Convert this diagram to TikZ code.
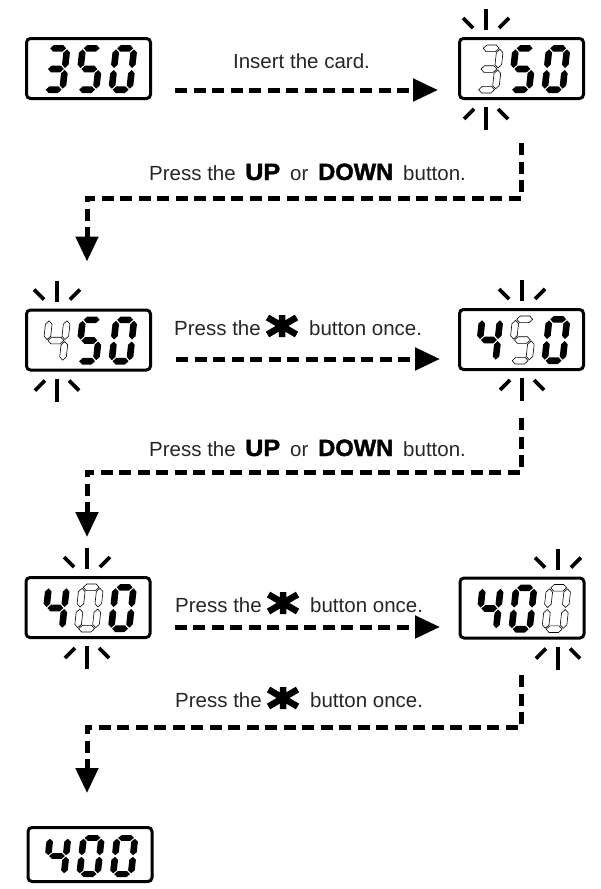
\documentclass[tikz,border=0pt]{standalone}
\usepackage{fontspec}
\setmainfont{Liberation Sans}
\newfontfamily\heavyfont{Liberation Sans}[BoldFeatures={FakeBold=1.6}]
\usepackage{graphicx}
\usetikzlibrary{arrows.meta,calc}

% seven-segment geometry (local coords, y up, 24 x 48), half thickness 3.3
\newcommand\hseg[3]{\path[segstyle] (#1,#3) -- ({#1+3.3},{#3+3.3}) -- ({#2-3.3},{#3+3.3}) -- (#2,#3) -- ({#2-3.3},{#3-3.3}) -- ({#1+3.3},{#3-3.3}) -- cycle;}
\newcommand\vseg[3]{\path[segstyle] (#1,#2) -- ({#1+3.3},{#2+3.3}) -- ({#1+3.3},{#3-3.3}) -- (#1,#3) -- ({#1-3.3},{#3-3.3}) -- ({#1-3.3},{#2+3.3}) -- cycle;}
\newcommand\SegA{\hseg{4.3}{20.2}{44.7}}
\newcommand\SegG{\hseg{4.3}{20.2}{24}}
\newcommand\SegD{\hseg{4.3}{20.2}{3.3}}
\newcommand\SegF{\vseg{3.3}{25}{43.7}}
\newcommand\SegB{\vseg{21.2}{25}{43.7}}
\newcommand\SegE{\vseg{3.3}{4.3}{23}}
\newcommand\SegC{\vseg{21.2}{4.3}{23}}

% \sdigit[opts]{x}{y}{ghost 0/1}{digit}
\newcommand\sdigit[5][]{%
  \begin{scope}[shift={({#2},{#3})},y=1pt,xslant=0.11,#1]
    \ifnum#4=1 \tikzset{segstyle/.style={ghost}}\else\tikzset{segstyle/.style={lit}}\fi
    \ifcase#5\relax
      \SegA\SegB\SegC\SegD\SegE\SegF
    \or\or\or
      \SegA\SegB\SegC\SegD\SegG
    \or
      \SegB\SegC\SegF\SegG
    \or
      \SegA\SegC\SegD\SegF\SegG
    \fi
  \end{scope}}

% \lcd[opts]{cx}{digit bottom y}{n1}{n2}{n3}{ghost position}
\newcommand\lcd[7][]{%
  \sdigit[#1]{#2-47.5}{#3}{\ifnum#7=1 1\else0\fi}{#4}%
  \sdigit[#1]{#2-14}{#3}{\ifnum#7=2 1\else0\fi}{#5}%
  \sdigit[#1]{#2+19.5}{#3}{\ifnum#7=3 1\else0\fi}{#6}}

% \flash{cx}{box top}{box bottom}
\newcommand\flash[3]{%
  \draw[ray] ({#1},{#2-28}) -- ({#1},{#2-7});
  \draw[ray] ({#1-23},{#2-19}) -- ({#1-13},{#2-9});
  \draw[ray] ({#1+23},{#2-19}) -- ({#1+13},{#2-9});
  \draw[ray] ({#1},{#3+7}) -- ({#1},{#3+30});
  \draw[ray] ({#1-22},{#3+19}) -- ({#1-12},{#3+9});
  \draw[ray] ({#1+22},{#3+19}) -- ({#1+12},{#3+9});}

\tikzset{
  lit/.style={fill=black},
  ghost/.style={draw=black, fill=white, line width=0.6pt, line join=round},
  disp/.style={draw, line width=3pt, rounded corners=4pt, minimum width=124pt, minimum height=60pt, inner sep=0pt},
  ray/.style={line width=3.6pt},
  conn/.style={line width=5pt, dash pattern=on 12pt off 6.5pt, -{Triangle[width=22pt,length=25pt]}},
  txt/.style={font=\fontsize{20.5}{24}\selectfont, text=black!85, inner sep=0pt},
  starkey/.pic={\draw[line width=6.5pt, black] (0,-11) -- (0,11) (-14.5,-8.5) -- (14.5,8.5) (-14.5,8.5) -- (14.5,-8.5);}
}

\newcommand\hv[1]{{\heavyfont\bfseries\color{black}#1}}
\newcommand\updown{Press the\hspace{9.4pt}\scalebox{1.23}[1.15]{\hv{UP}}\hspace{10pt}or\hspace{9.8pt}\scalebox{1.155}[1.15]{\hv{DOWN}}\hspace{10pt}button.}
\newcommand\starline{Press the\hspace{48.4pt}button once.}

\begin{document}
\begin{tikzpicture}[x=1pt,y=-1pt]
\useasboundingbox (0,0) rectangle (600,889);

% displays
\node[disp] (d1) at (88.5,68.5) {};
\node[disp] (d2) at (521.5,68.5) {};
\node[disp] (d3) at (88.5,340) {};
\node[disp] (d4) at (521.5,339.5) {};
\node[disp] (d5) at (88,607.5) {};
\node[disp] (d6) at (522,608) {};
\node[disp, minimum height=54pt] (d7) at (90,854.5) {};

\lcd{88.5}{93}{3}{5}{0}{0}
\lcd{521.5}{93}{3}{5}{0}{1}
\lcd{88.5}{364.5}{4}{5}{0}{1}
\lcd{521.5}{364}{4}{5}{0}{2}
\lcd{88}{632}{4}{0}{0}{2}
\lcd{522}{632.5}{4}{0}{0}{3}
\lcd[yscale=0.875]{90}{877}{4}{0}{0}{0}

% flashing marks
\flash{486}{37}{100}
\flash{57}{308.5}{371.5}
\flash{522}{308}{371}
\flash{87}{576}{639}
\flash{558}{576.5}{639.5}

% texts
\node[txt, anchor=base] (t1) at (301.5,68) {Insert the card.};
\node[txt, anchor=base west] (t2) at (149,180) {\updown};
\node[txt, anchor=base west] (t3) at (174,335) {\starline};
\pic at ($(t3.base west)+(108,-9)$) {starkey};
\node[txt, anchor=base west] (t4) at (149,456) {\updown};
\node[txt, anchor=base west] (t5) at (175,612) {\starline};
\pic at ($(t5.base west)+(108,-9)$) {starkey};
\node[txt, anchor=base west] (t6) at (175,707) {\starline};
\pic at ($(t6.base west)+(108,-9)$) {starkey};

% connectors
\draw[conn] ($(d1.east)+(23,21.5)$) -- ($(d2.west)+(-20,21.5)$);
\draw[conn] ($(d3.east)+(24,19)$) -- ($(d4.west)+(-18,19.5)$);
\draw[conn] ($(d5.east)+(23,19.5)$) -- ($(d6.west)+(-18.5,19)$);
\draw[conn] ($(d2.south)+(-0.5,43)$) -- ++(0,55) -| ($(d3.north)+(-1.5,-47)$);
\draw[conn] ($(d4.south)+(-0.5,47)$) -- ++(0,54) -| ($(d5.north)+(-1,-39)$);
\draw[conn] ($(d6.south)+(-1,35.5)$) -- ++(0,52) -| ($(d7.north)+(-3,-33)$);
\end{tikzpicture}
\end{document}
